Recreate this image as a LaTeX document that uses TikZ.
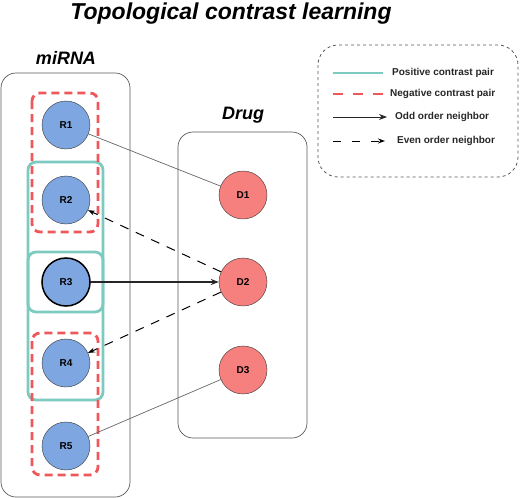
\documentclass[tikz,border=0pt]{standalone}
\usepackage{fontspec}
\setmainfont{Liberation Sans}
\usetikzlibrary{arrows.meta}
\definecolor{rnablue}{RGB}{126,166,224}
\definecolor{drugred}{RGB}{246,128,125}
\definecolor{posteal}{RGB}{124,202,192}
\definecolor{negred}{RGB}{238,88,90}
\begin{document}
\begin{tikzpicture}[x=1pt,y=-1pt]
    % --- styles ---
    \tikzset{groupbox/.style={draw=black!65,rounded corners=15pt,line width=0.7pt},
      rnanode/.style={circle,draw=black!80,fill=rnablue,minimum size=48pt,inner sep=0pt,font=\fontsize{10}{12}\selectfont\bfseries},
      drugnode/.style={circle,draw=black!80,fill=drugred,minimum size=48pt,inner sep=0pt,font=\fontsize{10}{12}\selectfont\bfseries},
      posbox/.style={draw=posteal,line width=2.8pt,rounded corners=8pt},
      negbox/.style={draw=negred,line width=2.8pt,rounded corners=8pt,dash pattern=on 8pt off 5pt},
      oddarrow/.style={-{Stealth[length=8pt,width=6pt]},line width=1.1pt,black!85},
      evenarrow/.style={-{Stealth[length=7pt,width=5pt]},line width=1pt,dash pattern=on 9pt off 8pt},
      plainlink/.style={black!60,line width=0.7pt},
      grouptitle/.style={font=\fontsize{18}{22}\selectfont\bfseries\itshape},
      legendtext/.style={anchor=west,font=\fontsize{10}{12}\selectfont\bfseries,text=black!85,inner sep=0pt}}
    \useasboundingbox (0,0) rectangle (520,498);

    % title
    \node[font=\fontsize{23}{27}\selectfont\bfseries\itshape] (title) at (231,14) {Topological contrast learning};

    % group boxes
    \draw[groupbox] (1,73) rectangle (130,497);
    \draw[groupbox] (178,132) rectangle (307,438);
    \node[grouptitle] (mirnalbl) at (66,58) {miRNA};
    \node[grouptitle] (druglbl) at (243,115) {Drug};

    % contrast pairs
    \draw[posbox] (28,162) rectangle (103,400);
    \draw[posbox] (28,252) rectangle (103,312);
    \draw[negbox] (32,93) rectangle (98,232);
    \draw[negbox] (32,333) rectangle (98,475);

    % nodes
    \foreach \i/\y in {1/125,2/200,3/282,4/363,5/446}
      \node[rnanode] (R\i) at (66,\y) {R\i};
    \draw[line width=1.5pt] (R3.center) circle (24pt);
    \foreach \i/\y in {1/195,2/282,3/370}
      \node[drugnode] (D\i) at (243,\y) {D\i};

    % neighbors
    \draw[plainlink] (R1) -- (D1);
    \draw[plainlink] (R5) -- (D3);
    \draw[oddarrow] (R3) -- (D2);
    \draw[evenarrow] (D2) -- (R2);
    \draw[evenarrow] (D2) -- (R4);

    % legend
    \draw[draw=black!65,dashed,line width=0.8pt,rounded corners=20pt] (318,45) rectangle (518,177);
    \coordinate (p1) at (333,73);  \coordinate (p2) at (383,73);
    \coordinate (n1) at (333,94);  \coordinate (n2) at (383,94);
    \coordinate (o1) at (333,117); \coordinate (o2) at (387,117);
    \coordinate (e1) at (333,141); \coordinate (e2) at (385,141);
    \draw[draw=posteal,line width=2.8pt] (p1) -- (p2);
    \draw[draw=negred,line width=2.8pt,dash pattern=on 10pt off 10pt] (n1) -- (n2);
    \draw[oddarrow,line width=0.9pt] (o1) -- (o2);
    \draw[evenarrow,dash pattern=on 8pt off 11pt] (e1) -- (e2);
    \node[legendtext] (lpos) at (392,73) {Positive contrast pair};
    \node[legendtext] (lneg) at (390,94) {Negative contrast pair};
    \node[legendtext] (lodd) at (395,117) {Odd order neighbor};
    \node[legendtext] (leven) at (397,141) {Even order neighbor};
  \end{tikzpicture}
\end{document}
